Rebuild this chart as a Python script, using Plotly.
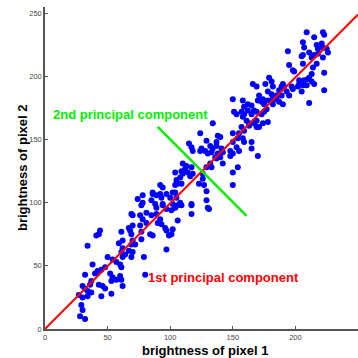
import plotly.graph_objects as go

# brightness of pixel 1 (x) and pixel 2 (y)
pts = [
    (34,66),(59,68),(62,64),(69,67),(67,62),(64,59),(62,57),(50,57),(54,55),(57,53),
    (60,51),(61,49),(38,51),(48,49),(45,47),(42,46),(40,44),(32,43),(52,44),(54,41),
    (53,38),(57,39),(60,42),(61,39),(62,34),(37,38),(36,35),(43,35),(46,34),(48,32),
    (53,28),(30,34),(32,32),(34,30),(37,29),(27,27),(30,25),(34,26),(45,26),(29,19),
    (30,15),(28,10),(32,8),(43,75),(44,78),(41,74),(80,43),(79,57),(97,63),
    (61,61),(69,57),(70,61),(62,70),(70,70),(77,71),(72,67),(61,77),(68,78),(69,75),
    (77,77),(84,75),(86,74),(67,80),(70,82),(76,82),(81,84),(78,87),(70,90),(69,91),
    (76,90),(81,92),(85,90),(89,91),(92,87),(90,84),(93,83),(96,80),(97,78),(101,75),
    (102,79),(99,74),(89,96),(94,98),(97,95),(101,94),(104,96),(74,103),(77,98),(86,107),
    (85,102),(88,99),(93,104),(94,99),(97,107),(100,104),(92,114),(94,112),(105,115),(104,108),
    (105,104),(106,98),
    (124,155),(115,147),(117,144),(118,141),(125,143),(129,149),(130,139),(133,140),(134,143),(137,145),
    (136,136),(137,135),(110,131),(113,129),(112,127),(117,128),(109,125),(110,123),(114,124),(116,121),
    (118,123),(126,123),(129,128),(133,128),(132,131),(104,124),(105,118),(108,120),(106,115),(104,114),
    (109,115),(92,107),(86,108),(89,106),(102,99),(102,108),(78,106),(78,100),(108,100),(109,98),
    (117,98),(129,102),(130,96),
    (150,114),(127,114),(129,109),(131,95),(117,91),(117,99),(106,86),(123,115),
    (166,194),(169,192),(150,182),(158,181),(162,178),(159,176),(165,177),(171,185),(174,182),(173,180),
    (175,178),(178,181),(170,181),(151,172),(153,170),(157,172),(159,170),(162,173),(165,170),(167,173),
    (169,172),(173,170),(175,172),(177,174),(158,168),(161,165),(163,163),(167,163),(169,165),(174,163),
    (178,164),(157,160),(159,157),(163,161),(169,160),(171,160),(134,163),(132,145),(137,148),(140,152),
    (150,155),(155,155),(154,151),(158,151),(159,148),(150,148),(165,148),(165,143),(153,144),(155,141),
    (148,141),(150,139),(141,143),(142,140),(138,139),(140,136),(148,137),(170,137),(128,141),(124,141),
    (138,153),(154,128),(150,124),(142,131),(126,119),
    (209,235),(215,231),(217,225),(218,222),(206,227),(207,223),(206,217),(211,219),(213,215),(215,217),
    (218,218),(194,220),(205,216),(206,210),(217,210),(214,207),(213,202),(211,199),(210,198),(195,209),
    (198,205),(199,204),(203,197),(207,197),(203,194),(206,193),(209,193),(213,196),(215,194),(205,188),
    (211,179),(179,199),(176,194),(181,196),(182,192),(190,194),(189,192),(191,192),(197,192),(198,190),
    (202,192),(187,189),(193,188),(189,185),(185,185),(195,185),(178,188),(181,186),(182,184),(185,182),
    (181,181),(182,178),(187,180),(190,178),
    (222,235),(223,233),(221,226),(222,223),(225,222),(226,219),(222,215),(223,203),(223,189),
]
pixel1 = [p[0] for p in pts]
pixel2 = [p[1] for p in pts]

pc1_x = [0, 250]
pc1_y = [0, 249]
pc2_x = [90, 161]
pc2_y = [160, 89.5]

tick_vals = [0, 50, 100, 150, 200, 250]

FONT = "Liberation Sans, Arial, Helvetica, sans-serif"

fig = go.Figure()
fig.add_trace(go.Scatter(x=pixel1, y=pixel2, mode="markers",
                         marker=dict(color="#0000ff", size=6, line=dict(width=0)),
                         showlegend=False, hoverinfo="skip"))
fig.add_trace(go.Scatter(x=pc1_x, y=pc1_y, mode="lines",
                         line=dict(color="#ff0000", width=2), showlegend=False))
fig.add_trace(go.Scatter(x=pc2_x, y=pc2_y, mode="lines",
                         line=dict(color="#00ee00", width=2.5), showlegend=False))

axis_common = dict(
    showgrid=False, zeroline=False, showline=True, linecolor="#555555", linewidth=1.5,
    ticks="inside", ticklen=3, tickwidth=1, tickcolor="#555555",
    tickvals=tick_vals, ticktext=[str(v) for v in tick_vals],
    tickfont=dict(family=FONT, size=7.5, color="#444444"),
    automargin=False,
)
fig.update_xaxes(range=[0, 250], **axis_common)
fig.update_yaxes(range=[0, 255], **axis_common)

fig.add_annotation(text="<b>2nd principal component</b>", x=4.6, y=169.5, xref="x", yref="y",
                   xanchor="left", yanchor="middle", showarrow=False,
                   font=dict(family=FONT, size=13, color="#00ee00"))
fig.add_annotation(text="<b>1st principal component</b>", x=81, y=40.4, xref="x", yref="y",
                   xanchor="left", yanchor="middle", showarrow=False,
                   font=dict(family=FONT, size=13, color="#ff0000"))
fig.add_annotation(text="<b>brightness of pixel 1</b>", x=127.8, y=0, xref="x", yref="paper",
                   xanchor="center", yanchor="middle", yshift=-21, showarrow=False,
                   font=dict(family=FONT, size=13, color="#000000"))
fig.add_annotation(text="<b>brightness of pixel 2</b>", x=0, y=0.5, xref="paper", yref="paper",
                   xanchor="center", yanchor="middle", xshift=-23, textangle=-90, showarrow=False,
                   font=dict(family=FONT, size=13, color="#000000"))

fig.update_layout(width=358, height=358, margin=dict(l=45, r=0, t=7, b=29),
                  plot_bgcolor="white", paper_bgcolor="white", hovermode=False)
fig.write_html("out.html", config={"displayModeBar": False},
               post_script="document.body.style.margin='0';document.body.style.overflow='hidden';")
